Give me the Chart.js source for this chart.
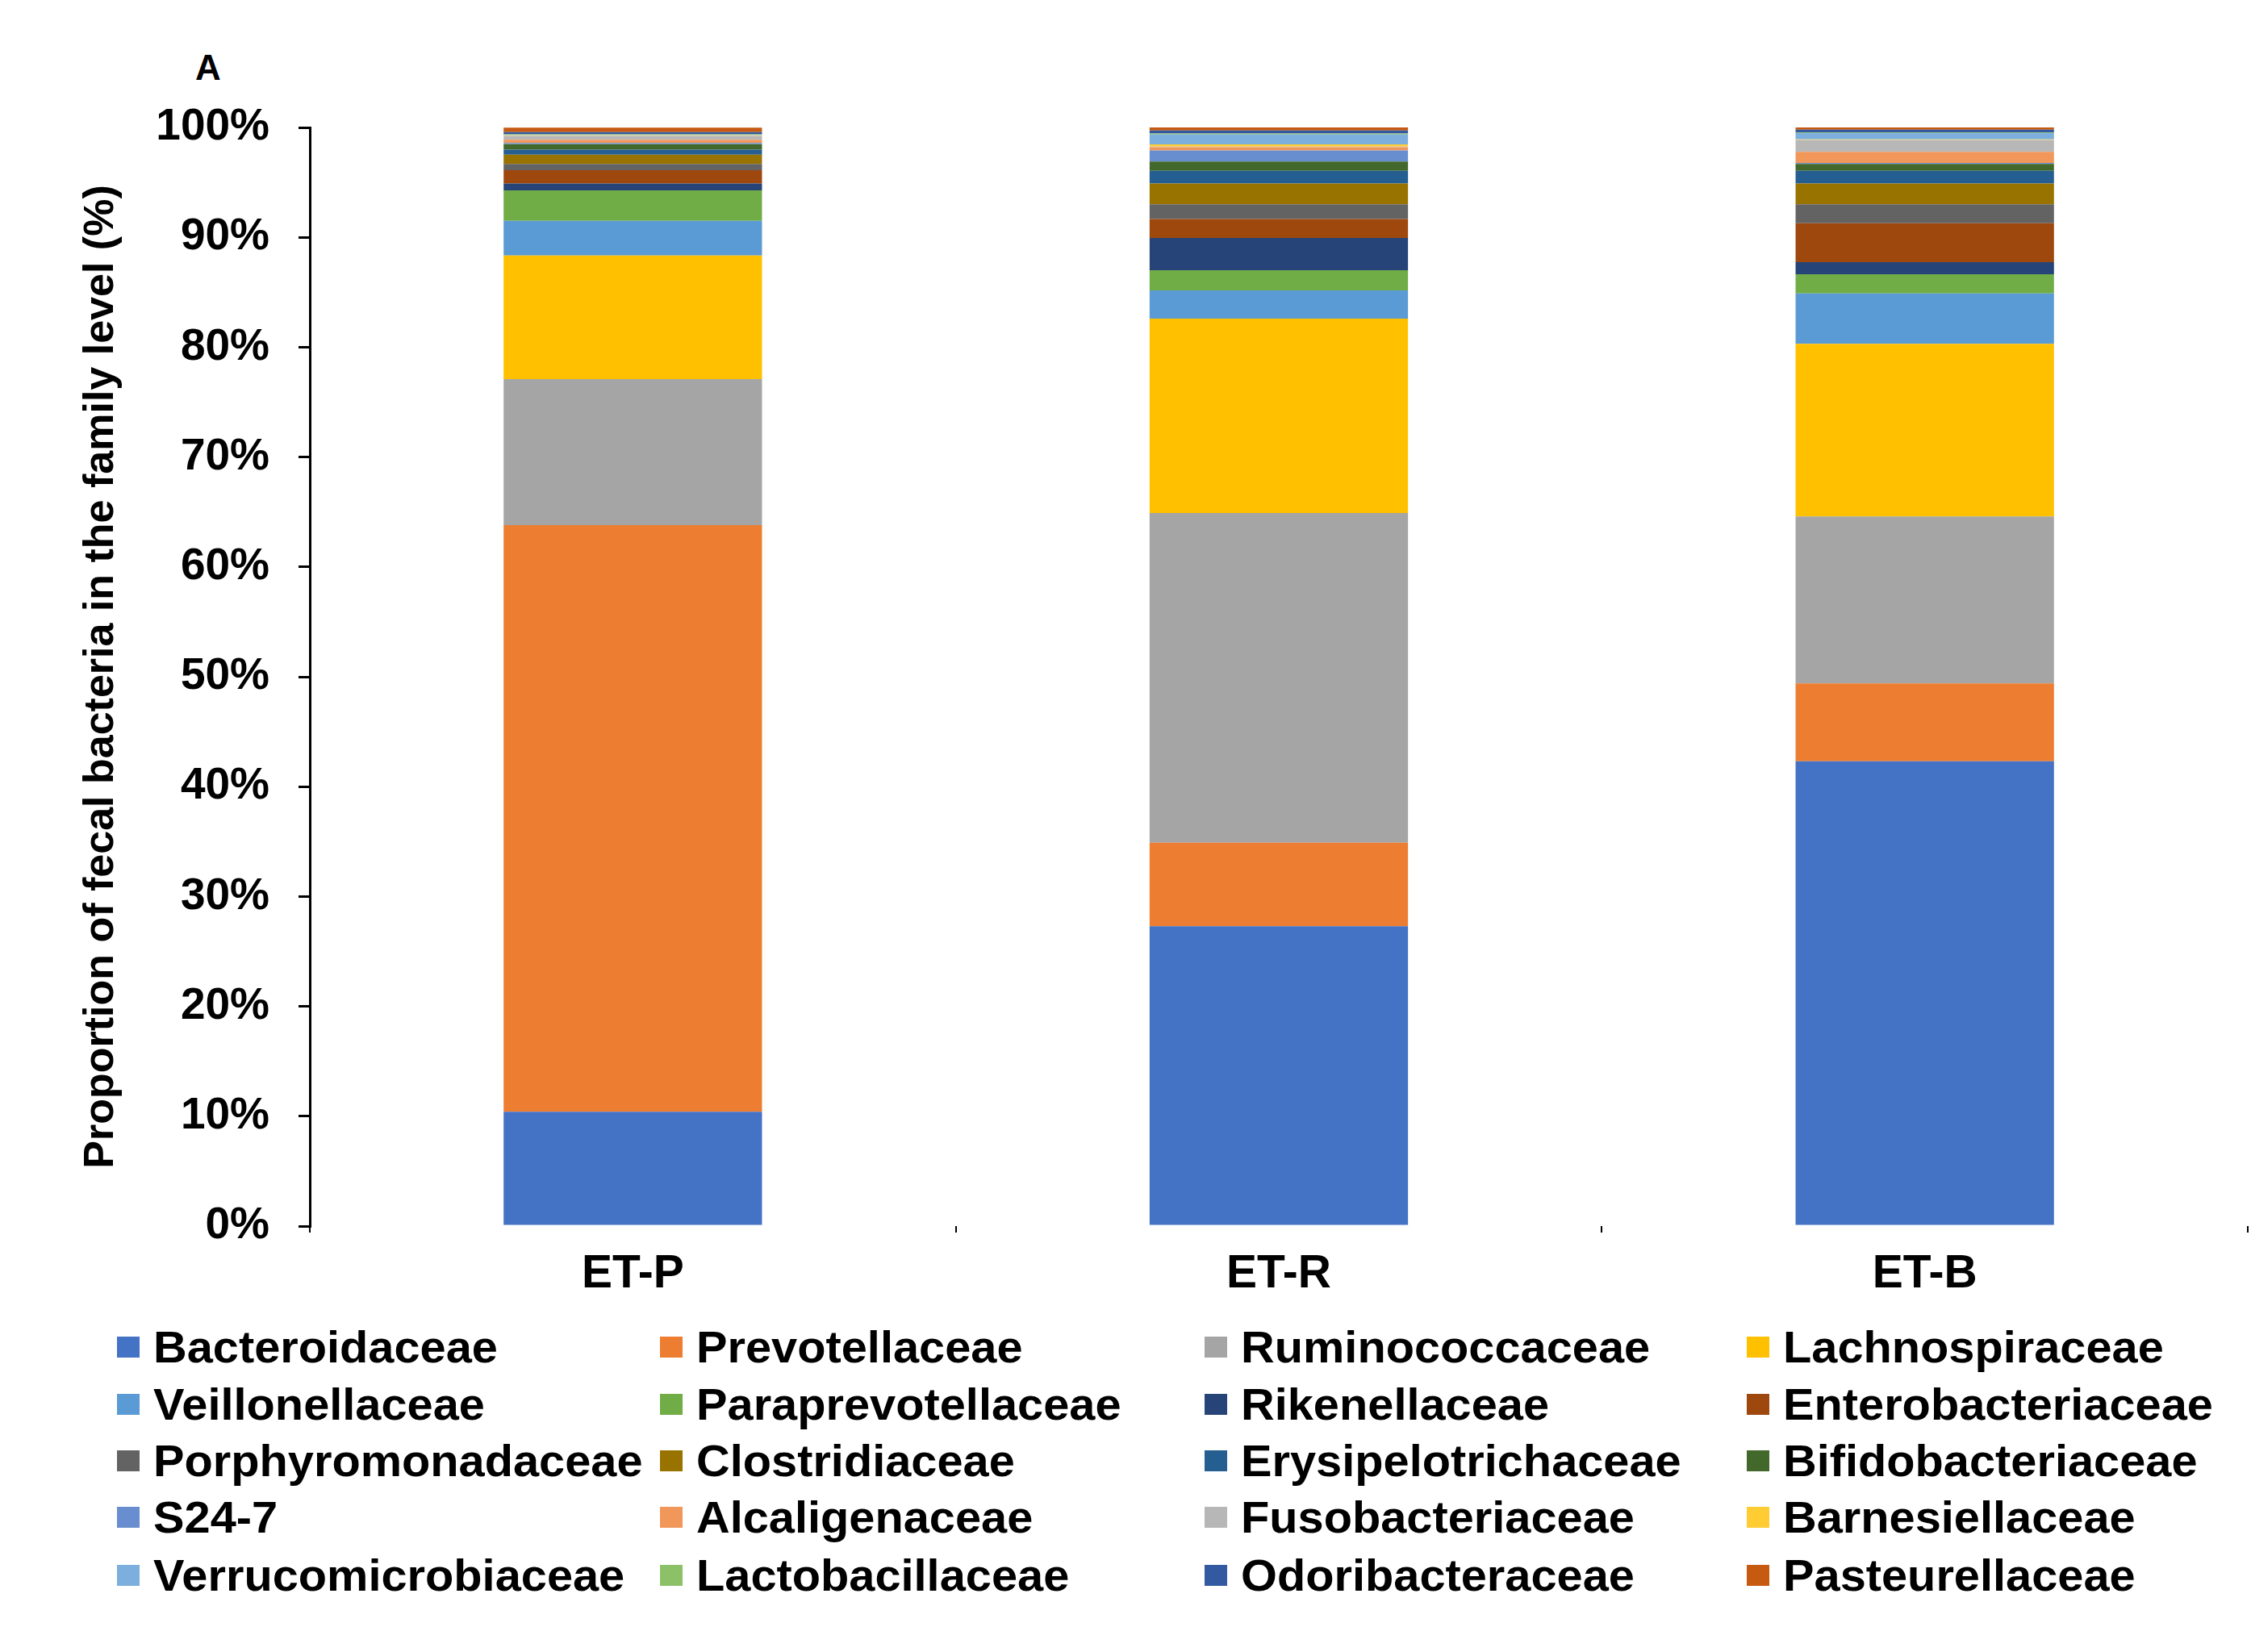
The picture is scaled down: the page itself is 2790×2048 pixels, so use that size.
<!DOCTYPE html>
<html>
<head>
<meta charset="utf-8">
<script src="https://cdn.jsdelivr.net/npm/chart.js@4"></script>
<style>
  html, body { margin: 0; padding: 0; background: #fff; }
  body { width: 2790px; height: 2048px; position: relative; overflow: hidden;
         font-family: "Liberation Sans", Arial, sans-serif; font-weight: bold; color: #000; }
  #wrap { position: absolute; left: 0; top: 0; width: 2790px; height: 1640px; }
  #panel { position: absolute; left: 242px; top: 62px; font-size: 44px; line-height: 44px; }
  .item { position: absolute; height: 55px; white-space: nowrap; }
  .item .box { position: absolute; left: 0; top: 14px; width: 28px; height: 26px; }
  .item .txt { position: absolute; left: 45px; top: 0; font-size: 55px; line-height: 55px;
               transform: scaleX(1.05); transform-origin: left center; }
</style>
</head>
<body>
<div id="panel">A</div>
<div id="wrap"><canvas id="familyChart"></canvas></div>
<div id="legend"></div>
<script>
// samples on the x axis
const samples = ['ET-P', 'ET-R', 'ET-B'];

// families, bottom of the stack first (same order as the legend)
const families = ['Bacteroidaceae', 'Prevotellaceae', 'Ruminococcaceae', 'Lachnospiraceae',
  'Veillonellaceae', 'Paraprevotellaceae', 'Rikenellaceae', 'Enterobacteriaceae',
  'Porphyromonadaceae', 'Clostridiaceae', 'Erysipelotrichaceae', 'Bifidobacteriaceae',
  'S24-7', 'Alcaligenaceae', 'Fusobacteriaceae', 'Barnesiellaceae',
  'Verrucomicrobiaceae', 'Lactobacillaceae', 'Odoribacteraceae', 'Pasteurellaceae'];

// proportion (%) of each family, one array per sample
const etP = [10.4, 53.4, 13.3, 11.25, 3.15, 2.77, 0.63, 1.2, 0.57, 0.86,
  0.45, 0.5, 0.1, 0.3, 0.35, 0.05, 0.05, 0.05, 0.2, 0.4];
const etR = [27.3, 7.6, 30.0, 17.7, 2.57, 1.83, 2.94, 1.72, 1.34, 1.9,
  1.16, 0.84, 1.0, 0.3, 0.05, 0.2, 0.9, 0.1, 0.28, 0.27];
const etB = [42.3, 7.1, 15.2, 15.7, 4.6, 1.74, 1.1, 3.55, 1.71, 1.9,
  1.16, 0.61, 0.1, 1.0, 1.1, 0.05, 0.57, 0.05, 0.26, 0.2];

// y tick values
const yTicks = [0, 10, 20, 30, 40, 50, 60, 70, 80, 90, 100];

const colors = ['#4472C4', '#ED7D31', '#A5A5A5', '#FFC000', '#5B9BD5', '#70AD47',
  '#264478', '#9E480E', '#636363', '#997300', '#255E91', '#43682B',
  '#698ED0', '#F1975A', '#B7B7B7', '#FFCD33', '#7CAFDD', '#8CC168',
  '#335AA1', '#C65A11'];

const FONT = '"Liberation Sans", Arial, sans-serif';

const datasets = families.map((name, i) => ({
    label: name,
    data: [etP[i], etR[i], etB[i]],
    backgroundColor: colors[i],
    borderWidth: 0,
    categoryPercentage: 0.8,
    barPercentage: 0.5
}));

const ctx = document.getElementById('familyChart').getContext('2d');
const familyChart = new Chart(ctx, {
    type: 'bar',
    data: { labels: samples, datasets: datasets },
    options: {
        responsive: true,
        maintainAspectRatio: false,
        animation: false,
        layout: { padding: { left: 0, right: 4, top: 158, bottom: 0 } },
        plugins: { legend: { display: false }, tooltip: { enabled: false } },
        scales: {
            x: {
                stacked: true,
                afterFit: s => { s.height = 120; },
                grid: { offset: true, drawOnChartArea: false, drawTicks: true, tickLength: 8,
                        color: '#000', lineWidth: 2 },
                border: { display: false },
                ticks: { color: '#000', padding: 18, font: { family: FONT, size: 57, weight: 'bold' } }
            },
            y: {
                stacked: true,
                min: 0,
                max: 100,
                afterFit: s => { s.width = 384; },
                afterBuildTicks: s => { s.ticks = yTicks.map(v => ({ value: v })); },
                grid: { drawOnChartArea: false, drawTicks: true, tickLength: 14, color: '#000', lineWidth: 3 },
                border: { display: true, color: '#000', width: 3 },
                ticks: {
                    color: '#000', padding: 36,
                    font: { family: FONT, size: 55, weight: 'bold' },
                    callback: v => v + '%'
                },
                title: {
                    display: true,
                    text: 'Proportion of fecal bacteria in the family level (%)',
                    color: '#000',
                    padding: { top: 94, bottom: 0 },
                    font: { family: FONT, size: 52, weight: 'bold' }
                }
            }
        }
    }
});

// legend: 4 columns, row-major
const legend = document.getElementById('legend');
const colX = [145, 818, 1493, 2165];
const rowTop = [1643, 1714, 1784, 1854, 1926];
families.forEach((name, i) => {
    const item = document.createElement('div');
    item.className = 'item';
    item.style.left = colX[i % 4] + 'px';
    item.style.top = rowTop[Math.floor(i / 4)] + 'px';
    item.innerHTML = '<span class="box" style="background:' + colors[i] + '"></span>' +
        '<span class="txt">' + name + '</span>';
    legend.appendChild(item);
});
</script>
</body>
</html>
